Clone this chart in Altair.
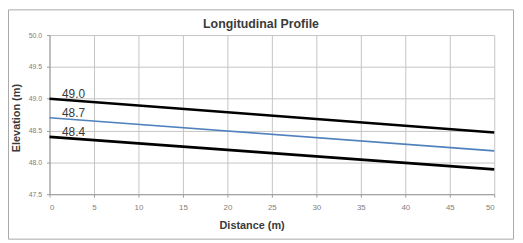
import altair as alt
import pandas as pd

# Data
distance = [0, 50]
upper = [49.0, 48.47]
centre = [48.7, 48.18]
lower = [48.4, 47.89]
label_text = ["49.0", "48.7", "48.4"]
label_value = [49.0, 48.7, 48.4]
label_pos = [1.4, 1.4, 1.4]
x_ticks = [0, 5, 10, 15, 20, 25, 30, 35, 40, 45, 50]
y_ticks = [47.5, 48.0, 48.5, 49.0, 49.5, 50.0]

black_rows = []
for name, vals in [("upper", upper), ("lower", lower)]:
    for d, v in zip(distance, vals):
        black_rows.append({"distance": d, "elevation": v, "series": name})
df_black = pd.DataFrame(black_rows)
df_blue = pd.DataFrame({"distance": distance, "elevation": centre})
lab = pd.DataFrame({"distance": label_pos, "elevation": label_value, "text": label_text})
one = pd.DataFrame({"k": [0]})

W, H = 450, 161

xs = alt.Scale(domain=[0, 50], nice=False, zero=False)
ys = alt.Scale(domain=[47.5, 50.0], nice=False, zero=False)

x_axis = alt.Axis(values=x_ticks, tickCount=20, title=None, format="d", grid=True, gridColor="#c4c4c4",
                  domainColor="#9a9a9a", tickColor="#9a9a9a", tickSize=3, labelOverlap=False,
                  labelFontSize=8, labelColor="#808080", labelPadding=7, labelFont="Liberation Sans")
y_axis = alt.Axis(values=y_ticks, tickCount=20, title=None, format=".1f", grid=True, gridColor="#c4c4c4",
                  domainColor="#9a9a9a", tickColor="#9a9a9a", tickSize=3, labelOverlap=False,
                  labelFontSize=7, labelColor="#808080", labelPadding=5, labelFont="Liberation Sans")

frame = alt.Chart(one).mark_rect(fillOpacity=0, stroke="#a8a8a8", strokeWidth=1).encode(
    x=alt.value(-41.5), x2=alt.value(469.5), y=alt.value(-25.5), y2=alt.value(206.5)
)

black = alt.Chart(df_black).mark_line(color="#000000", strokeWidth=2.6).encode(
    x=alt.X("distance:Q", scale=xs, axis=x_axis),
    y=alt.Y("elevation:Q", scale=ys, axis=y_axis),
    detail="series:N",
)
blue = alt.Chart(df_blue).mark_line(color="#4f81bd", strokeWidth=1.6).encode(
    x=alt.X("distance:Q", scale=xs),
    y=alt.Y("elevation:Q", scale=ys),
)

labels = alt.Chart(lab).mark_text(align="left", baseline="alphabetic", dy=-1, fontSize=12,
                                  color="#3a3a3a", font="Liberation Sans").encode(
    x=alt.X("distance:Q", scale=xs), y=alt.Y("elevation:Q", scale=ys), text="text:N"
)

title = alt.Chart(one).mark_text(text="Longitudinal Profile", align="center", baseline="alphabetic",
                                 fontSize=12.5, fontWeight="bold", color="#3a3a3a",
                                 font="Liberation Sans").encode(x=alt.value(214), y=alt.value(-7.5))
xtitle = alt.Chart(one).mark_text(text="Distance (m)", align="center", baseline="alphabetic",
                                  fontSize=11, fontWeight="bold", color="#3a3a3a",
                                  font="Liberation Sans").encode(x=alt.value(205), y=alt.value(196))
ytitle = alt.Chart(one).mark_text(text="Elevation (m)", align="center", baseline="middle", angle=270,
                                  fontSize=11, fontWeight="bold", color="#3a3a3a",
                                  font="Liberation Sans").encode(x=alt.value(-33), y=alt.value(84))

chart = alt.layer(frame, black, blue, labels, title, xtitle, ytitle).properties(
    width=W, height=H,
    autosize=alt.AutoSizeParams(type="none"),
    padding={"left": 42, "top": 26, "right": 21, "bottom": 47},
).configure_view(stroke=None)

chart.save("out.html", embed_options={"renderer": "svg", "actions": False})
